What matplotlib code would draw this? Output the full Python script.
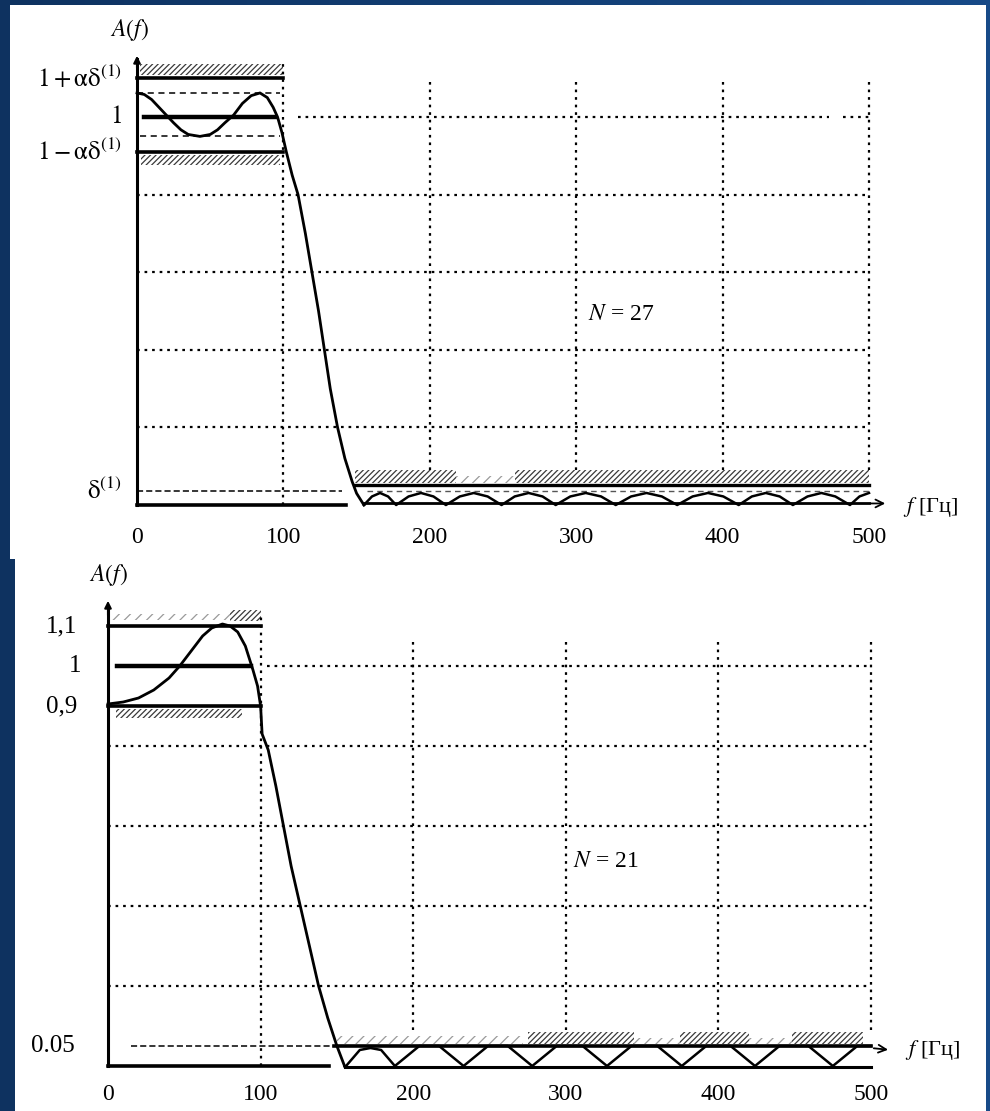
import numpy as np
import matplotlib
matplotlib.use("Agg")
import matplotlib.pyplot as plt
from matplotlib.colors import LinearSegmentedColormap
from matplotlib.patches import Rectangle

plt.rcParams['mathtext.fontset'] = 'stix'
plt.rcParams['font.family'] = ['Liberation Serif', 'DejaVu Serif']
plt.rcParams['hatch.linewidth'] = 0.9

# ---------------- data ----------------
freq_ticks = [0, 100, 200, 300, 400, 500]
freq_labels = ['0', '100', '200', '300', '400', '500']
grid_levels = [0.2, 0.4, 0.6, 0.8]

# top panel, N = 27
top_pass_f = [0, 5, 10, 15, 20, 25, 30, 35, 43, 50, 55, 60, 66, 72, 78, 84, 89, 93, 96,
              99, 102, 106, 110, 115, 119.5, 124, 128, 132, 137, 142, 147, 150, 155]
top_pass_A = [1.062, 1.058, 1.045, 1.025, 1.005, 0.985, 0.967, 0.955, 0.950, 0.955, 0.967,
              0.985, 1.005, 1.035, 1.055, 1.062, 1.05, 1.025, 1.0, 0.96, 0.91, 0.85, 0.80,
              0.70, 0.60, 0.50, 0.40, 0.30, 0.20, 0.12, 0.06, 0.03, 0.0]
top_stop_f = [155, 160.5, 166, 171.5, 177, 185.5, 194, 202.5, 211, 220.5, 230, 239.5, 249,
              258, 267.5, 277, 286, 296, 306.5, 317, 327, 337.5, 348, 358.5, 369, 379.5, 390,
              400.5, 411, 420, 429.5, 439, 448, 458, 467.5, 477, 487, 493.5, 500]
top_stop_A = [0, 0.022, 0.031, 0.022, 0, 0.022, 0.031, 0.022, 0, 0.022, 0.031, 0.022, 0,
              0.022, 0.031, 0.022, 0, 0.022, 0.031, 0.022, 0, 0.022, 0.031, 0.022, 0, 0.022,
              0.031, 0.022, 0, 0.022, 0.031, 0.022, 0, 0.022, 0.031, 0.022, 0, 0.022, 0.031]
top_upper, top_unity, top_lower = 1.10, 1.0, 0.91
top_ripple_hi, top_ripple_lo = 1.062, 0.950
top_delta, top_stop_spec = 0.036, 0.052
top_ylabels = [r'$\mathrm{1+\alpha\delta^{(1)}}$', r'$\mathrm{1}$',
               r'$\mathrm{1-\alpha\delta^{(1)}}$', r'$\mathrm{\delta^{(1)}}$']
top_ylabel_vals = [1.10, 1.0, 0.91, 0.036]

# bottom panel, N = 21
bot_pass_f = [0, 10, 20, 30, 40, 47, 55, 62, 68, 75, 80, 85, 90, 95, 98, 100, 101, 105,
              110, 115, 120, 126, 132, 138, 144, 150, 155]
bot_pass_A = [0.905, 0.91, 0.92, 0.94, 0.97, 1.0, 1.04, 1.075, 1.095, 1.105, 1.10, 1.085,
              1.05, 0.99, 0.95, 0.90, 0.83, 0.79, 0.70, 0.60, 0.50, 0.40, 0.30, 0.20, 0.12,
              0.05, 0.0]
bot_stop_f = [155, 156, 165, 172, 179, 188, 204, 217, 233, 249, 262, 278, 294, 311, 327,
              343, 360, 376, 392, 408, 424, 440, 459, 475, 491, 500]
bot_stop_A = [0, 0, 0.04, 0.045, 0.04, 0, 0.05, 0.05, 0, 0.05, 0.05, 0, 0.05, 0.05, 0,
              0.05, 0.05, 0, 0.05, 0.05, 0, 0.05, 0.05, 0, 0.05, 0.05]
bot_upper, bot_unity, bot_lower = 1.10, 1.0, 0.90
bot_stop_spec = 0.05
bot_ylabels = ['1,1', '1', '0,9', '0.05']
bot_ylabel_vals = [1.10, 1.0, 0.90, 0.05]

W, H = 990, 1111
fig = plt.figure(figsize=(W / 100, H / 100), dpi=100)

# background
bg = fig.add_axes([0, 0, 1, 1])
bg.set_xlim(0, W)
bg.set_ylim(H, 0)
bg.axis('off')
cmap = LinearSegmentedColormap.from_list('bgc', ['#0e3260', '#174a88'])
bg.imshow(np.linspace(0, 1, 256)[None, :], cmap=cmap, extent=(0, W, H, 0), aspect='auto')
bg.add_patch(Rectangle((10, 5), 976, 554, facecolor='white', edgecolor='none'))
bg.add_patch(Rectangle((15, 558), 971, 553, facecolor='white', edgecolor='none'))


def make_ax(x0, x500, y0, y1, xlim=(-40, 560), ylim=(-0.15, 1.25)):
    sx = (x500 - x0) / 500.0
    sy = (y0 - y1)
    l = x0 + xlim[0] * sx
    r = x0 + xlim[1] * sx
    b = y0 - ylim[0] * sy
    t = y0 - ylim[1] * sy
    ax = fig.add_axes([l / W, 1 - b / H, (r - l) / W, (b - t) / H])
    ax.set_xlim(*xlim)
    ax.set_ylim(*ylim)
    ax.patch.set_alpha(0)
    for s in ax.spines.values():
        s.set_visible(False)
    ax.spines['bottom'].set_position(('data', 0))
    ax.set_yticks([])
    return ax


def hatch(ax, f0, f1, a0, a1, dense=True):
    ax.fill_between([f0, f1], [a0, a0], [a1, a1], facecolor='none',
                    edgecolor='#3a3a3a' if dense else '#9a9a9a',
                    hatch='//////' if dense else '///', linewidth=0)


DOT = (0, (1.2, 2.2))

# ================= TOP PANEL =================
ax = make_ax(137, 869, 505, 117)
ax.set_xticks(freq_ticks)
ax.set_xticklabels(freq_labels, fontsize=17)
ax.tick_params(axis='x', length=0, pad=16)

# grid
for g in grid_levels:
    ax.plot([0, 500], [g, g], color='k', lw=1.6, ls=DOT)
ax.plot([110, 473], [1.0, 1.0], color='k', lw=1.6, ls=DOT)
ax.plot([482, 500], [1.0, 1.0], color='k', lw=1.6, ls=DOT)
ax.plot([100, 100], [0, 1.14], color='k', lw=1.6, ls=DOT)
for xv in freq_ticks[2:]:
    ax.plot([xv, xv], [0.09, 1.09], color='k', lw=1.6, ls=DOT)

# passband tolerance box
hatch(ax, 2, 100, 1.108, 1.137, dense=True)
hatch(ax, 3, 98, 0.876, 0.902, dense=True)
ax.plot([0, 100], [top_upper, top_upper], color='k', lw=2.6)
ax.plot([0, 100], [top_lower, top_lower], color='k', lw=2.6)
ax.plot([5, 94], [top_unity, top_unity], color='k', lw=3.2)
ax.plot([0, 98], [top_ripple_hi, top_ripple_hi], color='k', lw=1.1, ls=(0, (4, 3)))
ax.plot([2, 98], [top_ripple_lo, top_ripple_lo], color='k', lw=1.1, ls=(0, (4, 3)))

# stopband tolerance
hatch(ax, 149, 218, 0.057, 0.09, dense=True)
hatch(ax, 218, 258, 0.057, 0.075, dense=False)
hatch(ax, 258, 500, 0.057, 0.09, dense=True)
ax.plot([149, 500], [top_stop_spec, top_stop_spec], color='k', lw=2.4)
ax.plot([0, 140], [top_delta, top_delta], color='k', lw=1.1, ls=(0, (4, 2)))
ax.plot([157, 500], [top_delta, top_delta], color='#555', lw=1.0, ls=(0, (4, 3)))

# response
ax.plot(top_pass_f, top_pass_A, color='k', lw=2.0)
ax.plot(top_stop_f, top_stop_A, color='k', lw=1.8)

# axes
ax.plot([0, 0], [0, 1.15], color='k', lw=2.2)
ax.annotate('', xy=(0, 1.165), xytext=(0, 1.12),
            arrowprops=dict(arrowstyle='-|>', lw=1.5, color='k', mutation_scale=10))
ax.plot([0, 143], [0, 0], color='k', lw=2.6)
ax.plot([155, 500], [0.004, 0.004], color='k', lw=2.0)
ax.annotate('', xy=(513, 0.004), xytext=(499, 0.004),
            arrowprops=dict(arrowstyle='->', lw=1.3, color='k', mutation_scale=14))
ax.text(523, -0.005, r'$f$ [Гц]', fontsize=16, ha='left', va='center')
ax.text(-5, 1.225, r'$A(f)$', fontsize=17, ha='center', va='center')
for lbl, v in zip(top_ylabels, top_ylabel_vals):
    ax.annotate(lbl, xy=(0, v), xytext=(-11, 0), textcoords='offset points',
                ha='right', va='center', fontsize=18)
ax.text(331, 0.49, r'$N$ = 27', fontsize=17, ha='center', va='center')

# ================= BOTTOM PANEL =================
ax = make_ax(108, 871, 1066, 666)
ax.set_xticks(freq_ticks)
ax.set_xticklabels(freq_labels, fontsize=17)
ax.tick_params(axis='x', length=0, pad=13)

for g in grid_levels:
    ax.plot([0, 500], [g, g], color='k', lw=1.6, ls=DOT)
ax.plot([104, 500], [1.0, 1.0], color='k', lw=1.6, ls=DOT)
ax.plot([100, 100], [0, 1.13], color='k', lw=1.6, ls=DOT)
for xv in freq_ticks[2:]:
    ax.plot([xv, xv], [0.09, 1.065], color='k', lw=1.6, ls=DOT)

hatch(ax, 2, 80, 1.115, 1.13, dense=False)
hatch(ax, 80, 100, 1.112, 1.14, dense=True)
hatch(ax, 5, 88, 0.87, 0.893, dense=True)
ax.plot([0, 100], [bot_upper, bot_upper], color='k', lw=2.6)
ax.plot([0, 100], [bot_lower, bot_lower], color='k', lw=2.6)
ax.plot([6, 94], [bot_unity, bot_unity], color='k', lw=3.2)

hatch(ax, 150, 272, 0.055, 0.075, dense=False)
hatch(ax, 275, 345, 0.055, 0.085, dense=True)
hatch(ax, 345, 375, 0.055, 0.07, dense=False)
hatch(ax, 375, 420, 0.055, 0.085, dense=True)
hatch(ax, 420, 448, 0.055, 0.07, dense=False)
hatch(ax, 448, 495, 0.055, 0.085, dense=True)
ax.plot([148, 500], [bot_stop_spec, bot_stop_spec], color='k', lw=2.6)
ax.plot([15, 148], [bot_stop_spec, bot_stop_spec], color='k', lw=1.1, ls=(0, (4, 2)))

ax.plot(bot_pass_f, bot_pass_A, color='k', lw=2.0)
ax.plot(bot_stop_f, bot_stop_A, color='k', lw=1.8)

ax.plot([0, 0], [0, 1.15], color='k', lw=2.2)
ax.annotate('', xy=(0, 1.17), xytext=(0, 1.12),
            arrowprops=dict(arrowstyle='-|>', lw=1.5, color='k', mutation_scale=10))
ax.plot([0, 145], [0, 0], color='k', lw=2.6)
ax.plot([155, 500], [-0.003, -0.003], color='k', lw=2.2)
ax.annotate('', xy=(513, 0.04), xytext=(500, 0.045),
            arrowprops=dict(arrowstyle='->', lw=1.3, color='k', mutation_scale=14))
ax.text(522, 0.04, r'$f$ [Гц]', fontsize=16, ha='left', va='center')
ax.text(0, 1.227, r'$A(f)$', fontsize=17, ha='center', va='center')
offs = [-22, -19, -22, -24]
for lbl, v, o in zip(bot_ylabels, bot_ylabel_vals, offs):
    ax.annotate(lbl, xy=(0, v), xytext=(o, 0), textcoords='offset points',
                ha='right', va='center', fontsize=18)
ax.text(326, 0.51, r'$N$ = 21', fontsize=17, ha='center', va='center')

fig.savefig('out.png', dpi=100)
